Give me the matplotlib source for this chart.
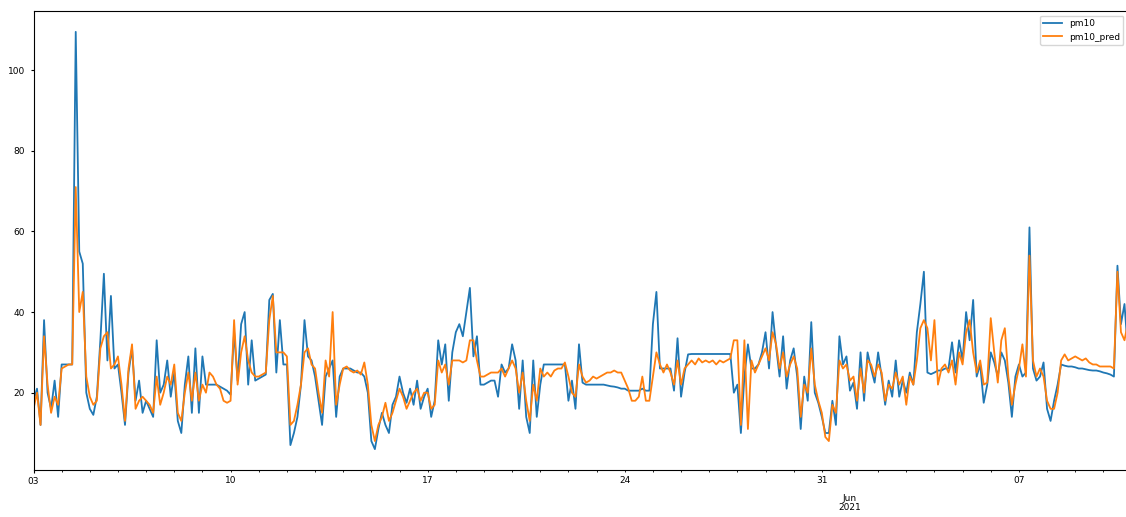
import numpy as np
import pandas as pd
import matplotlib
matplotlib.use("Agg")
import matplotlib.pyplot as plt

# 3-hourly readings, 8 values per day, starting 2021-05-03 00:00
start = "2021-05-03 00:00"

pm10 = [
    18, 21, 12, 38, 20, 16, 23, 14,          # May 03
    27, 27, 27, 27, 109.5, 55, 52, 20,       # May 04
    16, 14.5, 19, 33, 49.5, 28, 44, 26,      # May 05
    27, 20, 12, 25, 31, 18, 23, 15,          # May 06
    18, 16, 14, 33, 20, 22, 28, 19,          # May 07
    25, 13, 10, 22, 29, 15, 31, 15,          # May 08
    29, 22, 22, 22, 22, 21.5, 21, 20.5,      # May 09
    19.5, 35, 23, 37, 40, 22, 33, 23,        # May 10
    23.5, 24, 24.5, 43, 44.5, 25, 38, 27,    # May 11
    27, 7, 10, 14, 22, 38, 29, 28,           # May 12
    24, 18, 12, 24, 26, 28, 14, 24,          # May 13
    26, 26, 26, 25.5, 25, 25, 24, 20,        # May 14
    8, 6, 11, 15, 12, 10, 17, 19,            # May 15
    24, 20, 17.5, 21, 17, 23, 16, 19,        # May 16
    21, 14, 18, 33, 27, 32, 18, 30,          # May 17
    35, 37, 34, 40, 46, 29, 34, 22,          # May 18
    22, 22.5, 23, 23, 19, 27, 25, 26,        # May 19
    32, 28, 16, 28, 14, 10, 28, 14,          # May 20
    22, 27, 27, 27, 27, 27, 27, 27,          # May 21
    18, 23, 16, 32, 22.5, 22, 22, 22,        # May 22
    22, 22, 22, 21.8, 21.6, 21.5, 21.3, 21,  # May 23
    21, 20.5, 20.5, 20.5, 20.5, 21, 20.5, 20.5,  # May 24
    37, 45, 26, 26, 26, 26, 20.5, 33.5,      # May 25
    19, 25, 29.5, 29.6, 29.6, 29.6, 29.6, 29.6,  # May 26
    29.6, 29.6, 29.6, 29.6, 29.6, 29.6, 29.6, 20,  # May 27
    22, 10, 24, 32, 26, 26, 27, 30,          # May 28
    35, 26, 40, 31.5, 24, 34, 21, 28,        # May 29
    31, 24, 11, 24, 18, 37.5, 20, 17.5,      # May 30
    14, 10, 10, 18, 12, 34, 27, 29,          # May 31
    20.5, 22.5, 16, 30, 18, 30, 26, 22.5,    # Jun 01
    30, 24, 17, 23, 19, 28, 19, 23,          # Jun 02
    20, 25, 22, 35, 42, 50, 25, 24.6,        # Jun 03
    25, 25.5, 25.5, 26, 26, 32.5, 25, 33,    # Jun 04
    28, 40, 33, 43, 24, 27, 17.5, 22,        # Jun 05
    30, 27.5, 24, 30, 28, 22.5, 14, 24,      # Jun 06
    27, 24, 25, 61, 26, 23, 24, 27.5,        # Jun 07
    16, 13, 18, 22, 27, 26.7, 26.5, 26.5,    # Jun 08
    26.3, 26, 26, 25.8, 25.6, 25.5, 25.5, 25.3,  # Jun 09
    25, 24.8, 24.5, 24, 51.5, 37, 42, 30,    # Jun 10
]

pm10_pred = [
    16, 20, 12, 34, 22, 15, 19, 17,
    26, 26.5, 27, 27, 71, 40, 45, 24,
    19, 17, 18, 31, 34, 35, 26, 27,
    29, 22, 13, 26, 32, 16, 18, 19,
    18, 17, 15, 24, 17, 20, 24, 22,
    27, 15, 13, 20, 25, 18, 25, 18,
    22, 20, 25, 24, 22, 21, 18, 17.5,
    18, 38, 22, 30, 34, 28, 25, 24,
    24, 24.5, 25, 38, 44, 30, 30, 30,
    29, 12, 13, 17, 22, 30, 31, 27,
    26, 20, 15, 28, 24, 40, 17, 22,
    26, 26.5, 25.5, 25, 25.5, 24.5, 27.5, 22,
    12, 8, 12, 14, 17.5, 13, 15, 18,
    21, 19, 16, 18, 20, 21, 18, 20,
    20, 16, 17, 28, 25, 27, 22, 28,
    28, 28, 27.5, 28, 33, 33, 28, 24,
    24, 24.5, 25, 25, 25, 26, 24, 26,
    28, 26, 20, 25, 18, 13, 22, 18,
    26, 24, 25, 24, 25.5, 26, 26, 27.5,
    24, 20, 19, 27, 24, 22.5, 23, 24,
    23.5, 24, 24.5, 25, 25, 25.5, 25, 25,
    23, 21, 18, 18, 19, 24, 18, 18,
    24, 30, 27, 25, 27, 25, 22, 28,
    22, 26, 27, 28, 27, 28.5, 27.5, 28,
    27.5, 28, 27, 28, 27.5, 28, 28.5, 33,
    33, 12, 33, 11, 28, 25, 27, 29,
    31, 28, 35, 32, 26, 30, 24, 27,
    29, 26, 14, 22, 20, 31, 22, 18,
    15, 9, 8, 17, 15, 28, 26, 27,
    23, 24, 18, 26, 20, 28, 27, 24,
    27, 25, 18, 22, 21, 25, 22, 24,
    17, 24, 22, 28, 36, 38, 36, 28,
    38, 22, 26, 27, 25, 28, 22, 30,
    27, 35, 38, 30, 25, 28, 22, 22.5,
    38.5, 30, 22.5, 33, 36, 24, 17, 22,
    26, 32, 24, 54, 28, 24, 26, 24,
    18, 16, 16, 20, 28, 29.5, 28, 28.5,
    29, 28.5, 28, 28.5, 27.5, 27, 27, 26.5,
    26.5, 26.5, 26.5, 26, 50, 35, 33, 37.5,
]

plt.rcParams["font.size"] = 6.5
plt.rcParams["xtick.major.size"] = 2.5
plt.rcParams["xtick.minor.size"] = 1.5
plt.rcParams["ytick.major.size"] = 2.5
plt.rcParams["xtick.major.pad"] = 2.5
plt.rcParams["xtick.minor.pad"] = 2.5
plt.rcParams["lines.linewidth"] = 1.3

idx = pd.date_range(start, periods=len(pm10), freq="3h")
df = pd.DataFrame({"pm10": pm10, "pm10_pred": pm10_pred}, index=idx)

fig, ax = plt.subplots(figsize=(11.26, 5.17), dpi=100)
df.plot(ax=ax)
ax.set_position([33.5 / 1126, 47 / 517, (1128 - 33.5) / 1126, 459 / 517])

# tighter line spacing for the stacked month/year label
fig.canvas.draw()
for lab in ax.get_xticklabels() + ax.get_xticklabels(minor=True):
    lab.set_linespacing(0.95)

fig.savefig("out.png", dpi=100)
